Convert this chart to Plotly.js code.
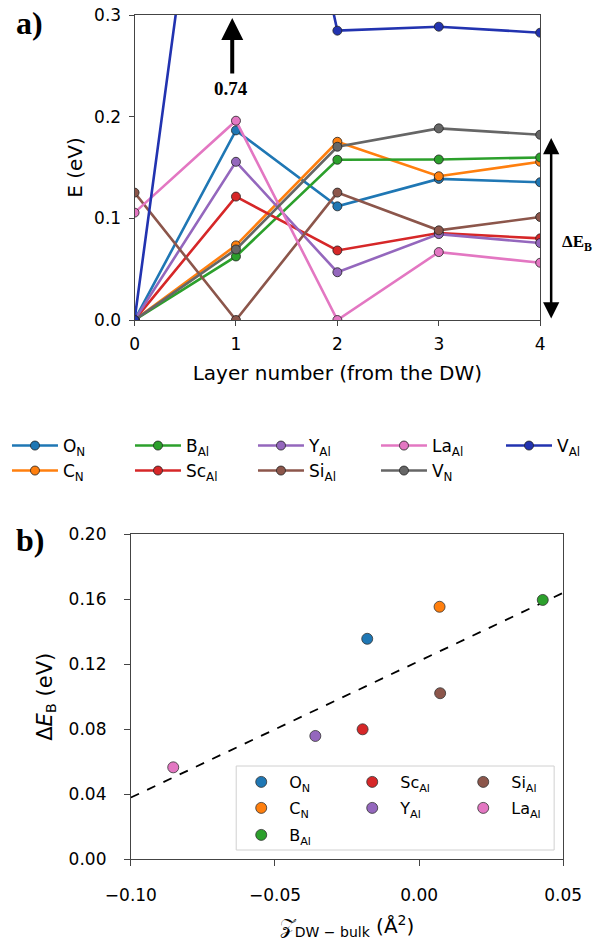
<!DOCTYPE html>
<html>
<head>
<meta charset="utf-8">
<script src="https://cdn.plot.ly/plotly-3.0.1.min.js"></script>
<style>html,body{margin:0;padding:0;background:#fff;}#chart{width:602px;height:945px;}</style>
</head>
<body>
<div id="chart"></div>
<script>
// ---- Panel a) data: energy vs layer number ----
const layers = [0, 1, 2, 3, 4];
const E_ON   = [0, 0.1865, 0.1118, 0.1388, 0.1355];
const E_CN   = [0, 0.0734, 0.1753, 0.1414, 0.1556];
const E_BAl  = [0, 0.0625, 0.1576, 0.1579, 0.1599];
const E_ScAl = [0, 0.1214, 0.0684, 0.0855, 0.0803];
const E_YAl  = [0, 0.1556, 0.0470, 0.0845, 0.0757];
const E_SiAl = [0.1253, 0, 0.1253, 0.0882, 0.1013];
const E_LaAl = [0.1056, 0.1960, 0, 0.0668, 0.0563];
const E_VN   = [0, 0.0694, 0.1704, 0.1885, 0.1822];
const E_VAl  = [0, 0.74, 0.2846, 0.2885, 0.2826];

// ---- Panel b) data ----
const bNames = ["O_N", "C_N", "B_Al", "Sc_Al", "Y_Al", "Si_Al", "La_Al"];
const Zdw    = [-0.0180, 0.0071, 0.0429, -0.0196, -0.0360, 0.0073, -0.0853];
const dEB    = [0.1357, 0.1554, 0.1596, 0.0800, 0.0759, 0.1022, 0.0566];
const fitX   = [-0.10, 0.05];
const fitY   = [0.038, 0.164];

const xTicksA = [0, 1, 2, 3, 4];
const yTicksA = [0.0, 0.1, 0.2, 0.3];
const xTicksB = [-0.10, -0.05, 0.00, 0.05];
const xTickTextB = ["\u22120.10", "\u22120.05", "0.00", "0.05"];
const yTicksB = [0.00, 0.04, 0.08, 0.12, 0.16, 0.20];

// ---- styles ----
const labels = {
  O_N: "O<sub>N</sub>", C_N: "C<sub>N</sub>", B_Al: "B<sub>Al</sub>", Sc_Al: "Sc<sub>Al</sub>",
  Y_Al: "Y<sub>Al</sub>", Si_Al: "Si<sub>Al</sub>", La_Al: "La<sub>Al</sub>", V_N: "V<sub>N</sub>", V_Al: "V<sub>Al</sub>"
};
const colors = {
  O_N: "#1f77b4", C_N: "#ff7f0e", B_Al: "#2ca02c", Sc_Al: "#d62728", Y_Al: "#9467bd",
  Si_Al: "#8c564b", La_Al: "#e377c2", V_N: "#666666", V_Al: "#2233b0"
};
const seriesA = [
  {key: "O_N", y: E_ON, legend: "legend", rank: 1},
  {key: "C_N", y: E_CN, legend: "legend2", rank: 1},
  {key: "B_Al", y: E_BAl, legend: "legend", rank: 2},
  {key: "Sc_Al", y: E_ScAl, legend: "legend2", rank: 2},
  {key: "Y_Al", y: E_YAl, legend: "legend", rank: 3},
  {key: "Si_Al", y: E_SiAl, legend: "legend2", rank: 3},
  {key: "La_Al", y: E_LaAl, legend: "legend", rank: 4},
  {key: "V_N", y: E_VN, legend: "legend2", rank: 4},
  {key: "V_Al", y: E_VAl, legend: "legend6", rank: 1}
];
const bLegend = {O_N: ["legend3", 1], Sc_Al: ["legend3", 2], Si_Al: ["legend3", 3],
                 C_N: ["legend4", 1], Y_Al: ["legend4", 2], La_Al: ["legend4", 3],
                 B_Al: ["legend5", 1]};

const traces = [];
seriesA.forEach(s => {
  traces.push({
    type: "scatter", mode: "lines+markers", x: layers, y: s.y,
    name: labels[s.key], legend: s.legend, legendrank: s.rank,
    xaxis: "x", yaxis: "y",
    line: {color: colors[s.key], width: 2.6},
    marker: {color: colors[s.key], size: 9, line: {color: "#222", width: 0.8}}
  });
});
traces.push({
  type: "scatter", mode: "lines", x: fitX, y: fitY, xaxis: "x2", yaxis: "y2",
  showlegend: false, line: {color: "#000", width: 1.8, dash: "dash"}
});
bNames.forEach((k, i) => {
  traces.push({
    type: "scatter", mode: "markers", x: [Zdw[i]], y: [dEB[i]],
    name: labels[k], legend: bLegend[k][0], legendrank: bLegend[k][1],
    xaxis: "x2", yaxis: "y2",
    marker: {color: colors[k], size: 11, line: {color: "#333", width: 0.8}}
  });
});

const W = 602, H = 945;
const px = v => v / W;
const py = v => 1 - v / H;
const tickFont = {family: "DejaVu Sans", size: 17, color: "#000"};
const titleFont = {family: "DejaVu Sans", size: 20, color: "#000"};
const axCommon = {
  showgrid: false, zeroline: false, showline: true, mirror: true,
  linecolor: "#444", linewidth: 1, ticks: "outside", ticklen: 5, tickcolor: "#444",
  tickfont: tickFont, fixedrange: true
};
const legCommon = {
  orientation: "h", xanchor: "left", yanchor: "middle",
  font: {family: "DejaVu Sans", size: 17, color: "#000"},
  bgcolor: "rgba(0,0,0,0)", borderwidth: 0, itemwidth: 46, itemclick: false, itemdoubleclick: false
};
const legB = Object.assign({}, legCommon, {font: {family: "DejaVu Sans", size: 16, color: "#000"}, entrywidth: 50});

const layout = {
  width: W, height: H,
  margin: {l: 0, r: 0, t: 0, b: 0},
  paper_bgcolor: "#fff", plot_bgcolor: "#fff",
  showlegend: true, hovermode: false,
  xaxis: Object.assign({}, axCommon, {
    domain: [px(135), px(542)], anchor: "y", range: [0, 4],
    tickvals: xTicksA, ticktext: xTicksA.map(String), ticklabelstandoff: 4,
    title: {text: "Layer number (from the DW)", font: titleFont, standoff: 12}
  }),
  yaxis: Object.assign({}, axCommon, {
    domain: [py(320), py(15)], anchor: "x", range: [0, 0.3],
    tickvals: yTicksA, ticktext: yTicksA.map(v => v.toFixed(1)), ticklabelstandoff: 4,
    title: {text: "E (eV)", font: titleFont, standoff: 6}
  }),
  xaxis2: Object.assign({}, axCommon, {
    domain: [px(131.3), px(565.1)], anchor: "y2", range: [-0.10, 0.05], ticklen: 6,
    tickvals: xTicksB, ticktext: xTickTextB, ticklabelstandoff: 14,
    title: {text: "\uD835\uDCB5<sub>DW \u2212 bulk</sub> (\u00C5<sup>2</sup>)", font: titleFont, standoff: 15}
  }),
  yaxis2: Object.assign({}, axCommon, {
    domain: [py(859.3), py(534.3)], anchor: "x2", range: [0, 0.20], ticklen: 6,
    tickvals: yTicksB, ticktext: yTicksB.map(v => v.toFixed(2)), ticklabelstandoff: 14,
    title: {text: "\u0394<i>E</i><sub>B</sub> (eV)", font: {family: "DejaVu Sans", size: 21, color: "#000"}, standoff: 10}
  }),
  legend:  Object.assign({}, legCommon, {x: px(7), y: py(446), entrywidth: 62}),
  legend2: Object.assign({}, legCommon, {x: px(7), y: py(471), entrywidth: 62}),
  legend6: Object.assign({}, legCommon, {x: px(503), y: py(446), entrywidth: 40}),
  legend3: Object.assign({}, legB, {x: px(234), y: py(782)}),
  legend4: Object.assign({}, legB, {x: px(234), y: py(808)}),
  legend5: Object.assign({}, legB, {x: px(234), y: py(835)}),
  shapes: [
    {type: "rect", xref: "paper", yref: "paper", x0: px(237), x1: px(556), y0: py(850), y1: py(766),
     line: {color: "#d0d0d0", width: 1}, fillcolor: "rgba(255,255,255,0.85)", layer: "above"}
  ],
  annotations: [
    {xref: "paper", yref: "paper", x: px(14), y: py(23), xanchor: "left", yanchor: "middle", showarrow: false,
     text: "<b>a)</b>", font: {family: "Liberation Serif", size: 32, color: "#000"}},
    {xref: "paper", yref: "paper", x: px(14), y: py(540), xanchor: "left", yanchor: "middle", showarrow: false,
     text: "<b>b)</b>", font: {family: "Liberation Serif", size: 32, color: "#000"}},
    {xref: "paper", yref: "paper", x: px(233), y: py(18), ax: px(233), ay: py(75), axref: "paper", ayref: "paper",
     showarrow: true, arrowhead: 2, arrowsize: 1.1, arrowwidth: 4, arrowcolor: "#000", text: ""},
    {xref: "paper", yref: "paper", x: px(232), y: py(89), xanchor: "center", yanchor: "middle", showarrow: false,
     text: "<b>0.74</b>", font: {family: "Liberation Serif", size: 19, color: "#000"}},
    {xref: "paper", yref: "paper", x: px(553), y: py(138), ax: px(553), ay: py(320), axref: "paper", ayref: "paper",
     showarrow: true, arrowhead: 2, arrowside: "end+start", arrowsize: 1.3, arrowwidth: 2.5, arrowcolor: "#000", text: ""},
    {xref: "paper", yref: "paper", x: px(562), y: py(243), xanchor: "left", yanchor: "middle", showarrow: false,
     text: "<b>\u0394E<sub>B</sub></b>", font: {family: "Liberation Serif", size: 17, color: "#000"}}
  ]
};

Plotly.newPlot("chart", traces, layout, {displayModeBar: false, staticPlot: true});
</script>
</body>
</html>
